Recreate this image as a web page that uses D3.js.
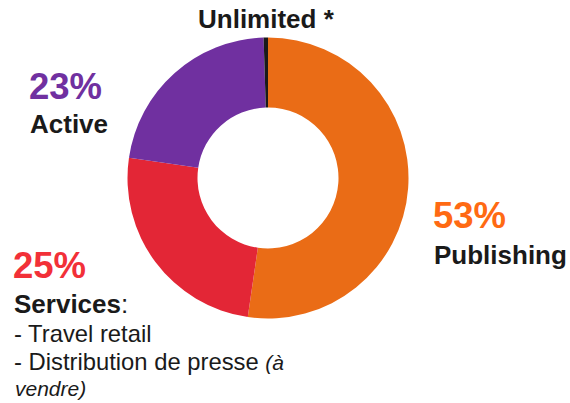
<!DOCTYPE html>
<html><head><meta charset="utf-8">
<script src="https://cdn.jsdelivr.net/npm/d3@7/dist/d3.min.js"></script>
<style>html,body{margin:0;padding:0;background:#fff;}svg{display:block;font-family:"Liberation Sans",Arial,sans-serif;}</style>
</head><body>
<script>
const categories = ["Publishing", "Services", "Active", "Unlimited"];
const values = [52.3, 25.0, 22.2, 0.5];
const pctLabels = ["53%", "25%", "23%", ""];
const colors = ["#EA6C16", "#E32636", "#7030A0", "#1a1a1a"];
const labelColors = ["#FF6A13", "#F23038", "#7030A0", "#1a1a1a"];

const W = 570, H = 403;
const svg = d3.select("body").append("svg").attr("width", W).attr("height", H);
const cx = 268, cy = 178, R = 140.5, r = 70.5;

const pie = d3.pie().sort(null).value(d => d);
const arc = d3.arc().innerRadius(r).outerRadius(R);
const g = svg.append("g").attr("transform", `translate(${cx},${cy})`);
g.selectAll("path").data(pie(values)).join("path")
  .attr("d", arc).attr("fill", (d, i) => colors[i]);

const dark = "#1a1a1a";
const big = 36.5, lab = 26, reg = 23.8, ital = 21;
// Unlimited
svg.append("text").attr("x", 198).attr("y", 28).attr("font-size", lab).attr("font-weight", "bold")
  .attr("fill", dark).text(categories[3] + " *");
// Active
svg.append("text").attr("x", 29).attr("y", 99).attr("font-size", big).attr("font-weight", "bold")
  .attr("fill", labelColors[2]).text(pctLabels[2]);
svg.append("text").attr("x", 30).attr("y", 133).attr("font-size", lab).attr("font-weight", "bold")
  .attr("fill", dark).text(categories[2]);
// Publishing
svg.append("text").attr("x", 433).attr("y", 228).attr("font-size", big).attr("font-weight", "bold")
  .attr("fill", labelColors[0]).text(pctLabels[0]);
svg.append("text").attr("x", 434).attr("y", 264).attr("font-size", lab).attr("font-weight", "bold")
  .attr("fill", dark).text(categories[0]);
// Services
svg.append("text").attr("x", 13).attr("y", 278).attr("font-size", big).attr("font-weight", "bold")
  .attr("fill", labelColors[1]).text(pctLabels[1]);
const s = svg.append("text").attr("x", 14).attr("y", 313).attr("font-size", lab).attr("fill", dark);
s.append("tspan").attr("font-weight", "bold").text(categories[1]);
s.append("tspan").text(":");
svg.append("text").attr("x", 14).attr("y", 342).attr("font-size", reg).attr("fill", dark).text("- Travel retail");
const d2 = svg.append("text").attr("x", 14).attr("y", 370).attr("font-size", reg).attr("fill", dark);
d2.append("tspan").text("- Distribution de presse ");
d2.append("tspan").attr("font-style", "italic").attr("font-size", ital).text("(à");
svg.append("text").attr("x", 15).attr("y", 396).attr("font-size", ital).attr("font-style", "italic")
  .attr("fill", dark).text("vendre)");
</script>
</body></html>
